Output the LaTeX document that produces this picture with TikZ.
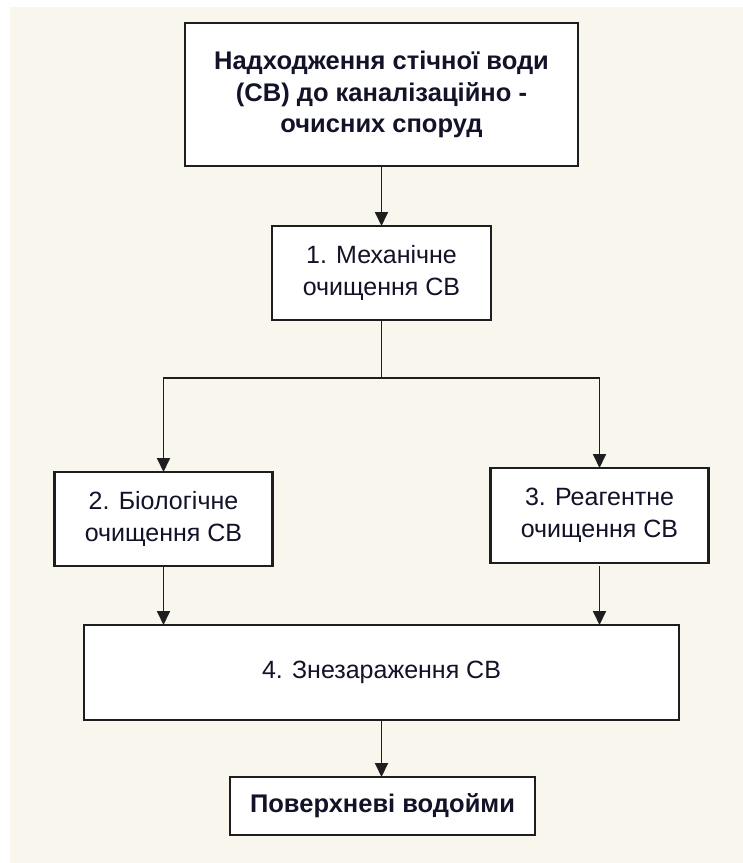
\documentclass[tikz,border=0pt]{standalone}
\usepackage{fontspec}
\setmainfont{Liberation Sans}
\usetikzlibrary{arrows.meta}
\definecolor{bgcream}{RGB}{249,246,238}
\definecolor{edge}{RGB}{30,30,30}
\definecolor{txt}{RGB}{18,18,40}
\begin{document}
\begin{tikzpicture}[x=1pt,y=-1pt,
  box/.style={draw=edge,line width=2.2pt,fill=white,inner sep=0pt,outer sep=0pt,
    align=center,text=txt,font=\fontsize{25}{31.5}\selectfont},
  boldbox/.style={box,font=\fontsize{25.5}{31.5}\selectfont\bfseries},
  conn/.style={draw=edge,line width=1.8pt},
  arr/.style={conn,-{Triangle[length=14pt,width=13pt]}}]
\fill[white] (0,0) rectangle (743,863);
\fill[bgcream] (10,7) rectangle (743,863);
\useasboundingbox (0,0) rectangle (743,863);

\node[boldbox,minimum width=393pt,minimum height=143pt] (top) at (381.5,94.5)
  {Надходження стічної води\\(СВ) до каналізаційно -\\очисних споруд};
\node[box,minimum width=218.5pt,minimum height=94pt] (m1) at (381.5,273)
  {1. Механічне\\очищення СВ};
\node[box,minimum width=218pt,minimum height=94pt] (b2) at (163.5,519)
  {2. Біологічне\\очищення СВ};
\node[box,minimum width=218pt,minimum height=95pt] (b3) at (599.5,515.5)
  {3. Реагентне\\очищення СВ};
\node[box,minimum width=595pt,minimum height=95pt] (b4) at (381.5,672.5)
  {4. Знезараження СВ};
\node[boldbox,minimum width=305.5pt,minimum height=58pt] (b5) at (382.5,806)
  {Поверхневі водойми};

\coordinate (split) at (381.5,378);

\draw[arr] (top.south) -- (m1.north);
\draw[conn] (m1.south) -- (split);
\draw[arr] (split) -| (b2.north);
\draw[arr] (split) -| (b3.north);
\draw[arr] (b2.south) -- (b2.south |- b4.north);
\draw[arr,shorten <=3pt] (b3.south) -- (b3.south |- b4.north);
\draw[arr] (b4.south) -- (b4.south |- b5.north);
\end{tikzpicture}
\end{document}
